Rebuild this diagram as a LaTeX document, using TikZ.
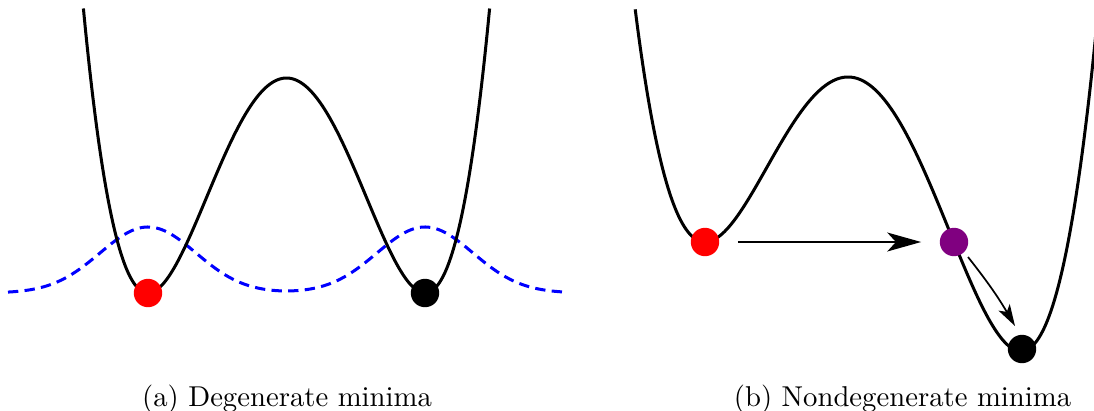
\documentclass[tikz,border=0pt]{standalone}
\usetikzlibrary{arrows.meta,calc}
\begin{document}
\begin{tikzpicture}[x=0.3485pt,y=-0.3485pt,
  pot/.style={line width=1.05pt,black},
  wave/.style={line width=1.05pt,blue,dash pattern=on 3.6pt off 2.2pt},
  dot/.style={circle,inner sep=0pt,minimum size=9.9pt,draw=none},
  arr/.style={line width=0.6pt,-{Stealth[length=11.8pt,width=6.6pt,inset=3pt]}},
  arrs/.style={line width=0.6pt,-{Stealth[length=7.5pt,width=4.5pt,inset=1.8pt]}},
  captext/.style={anchor=base,font=\fontsize{10}{12}\selectfont}]
\useasboundingbox (0,0) rectangle (1094,410);
% left panel
\draw[wave] plot[domain=8:562,samples=220,smooth]
  (\x,{293-66*(exp(-0.5*((\x-148)/48)^2)+exp(-0.5*((\x-425)/48)^2))});
\draw[pot] plot[domain=83.4:489.6,samples=220,smooth]
  (\x,{293-215*(((\x-286.5)/138.5)^2-1)^2});
\node[dot,fill=red] (l1) at (148,293) {};
\node[dot,fill=black] (l2) at (425,293) {};
% right panel
\draw[pot] plot[domain=635.2:1099,samples=240,smooth]
  (\x,{77-138.47*(0.25*((\x-848)/100)^4-0.1*((\x-848)/100)^3-1.23695*((\x-848)/100)^2)});
\node[dot,fill=red] (r1) at (705,242) {};
\node[dot,fill={rgb,255:red,128;green,0;blue,128}] (p) at (954,242) {};
\node[dot,fill=black] (b) at (1022,349) {};
\draw[arr,shorten <=6.3pt,shorten >=6.3pt] (r1) -- (p);
\draw[arrs] ($(p)+(14,15)$) to[bend left=4] ($(b)+(-7,-23)$);
% captions
\node[captext] (ca) at (287,406) {(a) Degenerate minima};
\node[captext] (cb) at (902.5,406) {(b) Nondegenerate minima};
\end{tikzpicture}
\end{document}
